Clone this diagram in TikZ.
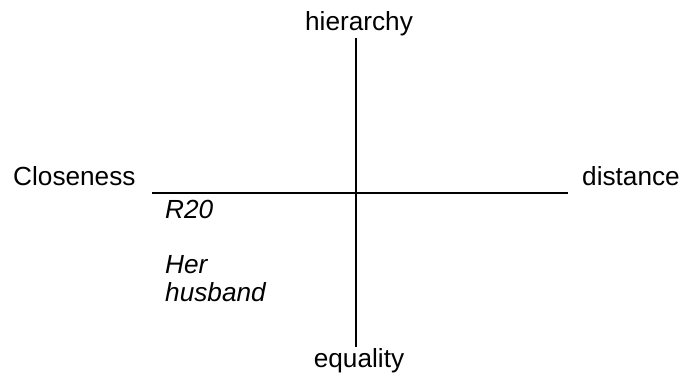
\documentclass[tikz,border=0pt]{standalone}
\usepackage{fontspec}
\setmainfont{Liberation Sans}
\begin{document}
\begin{tikzpicture}[x=1pt,y=-1pt,
  lbl/.style={inner sep=0pt,font=\fontsize{26.2}{31}\selectfont},
  ilbl/.style={lbl,font=\fontsize{26.2}{31}\selectfont\itshape},
  axis/.style={line width=2pt}]
\useasboundingbox (0,0) rectangle (682,380);
\coordinate (vt) at (356,38);
\coordinate (vb) at (356,347);
\coordinate (hl) at (152,192.5);
\coordinate (hr) at (568,192.5);
\draw[axis] (vt) -- (vb);
\draw[axis] (hl) -- (hr);
\node[lbl,anchor=base] (hier) at (359,30) {hierarchy};
\node[lbl,anchor=base] (eq) at (359,367) {equality};
\node[lbl,anchor=base west] (close) at (13,185.5) {Closeness};
\node[lbl,anchor=base west] (dist) at (582,185.5) {distance};
\node[ilbl,anchor=base west] (r20) at (165,218) {R20};
\node[ilbl,anchor=base west] (her) at (165,273) {Her};
\node[ilbl,anchor=base west] (hus) at (165,301) {husband};
\end{tikzpicture}
\end{document}
